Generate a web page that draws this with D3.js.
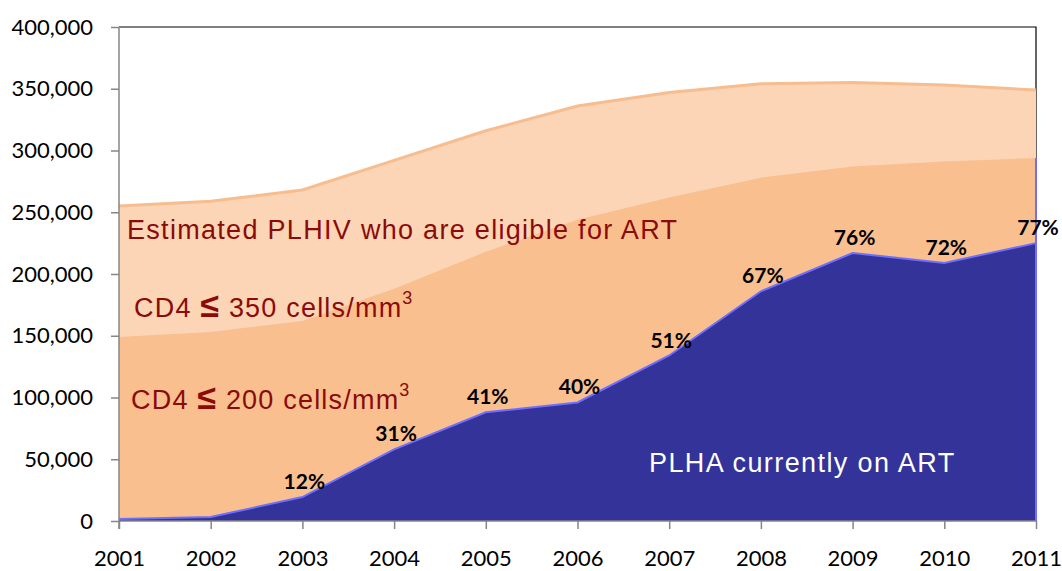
<!DOCTYPE html>
<html lang="en">
<head>
    <meta charset="UTF-8">
    <title>PLHIV eligible for ART</title>
    <style>
        * {
            margin: 0;
            padding: 0;
        }

        html,
        body {
            overflow: hidden;
            background: #fff;
        }
    </style>
</head>
<body>
    <div id="chart"></div>
    <script src="https://cdn.jsdelivr.net/npm/d3@7"></script>
    <script>
        // data
        const years = [2001, 2002, 2003, 2004, 2005, 2006, 2007, 2008, 2009, 2010, 2011]
        const eligible350 = [255000, 259000, 268000, 292000, 316000, 336000, 347000, 354000, 355000, 353000, 349000]
        const eligible200 = [149000, 153000, 162000, 188000, 218000, 244000, 262000, 278000, 287000, 291000, 294000]
        const onArt = [1600, 3200, 19400, 58000, 88000, 96000, 134000, 186000, 217000, 209000, 225000]
        const coverage = [null, null, '12%', '31%', '41%', '40%', '51%', '67%', '76%', '72%', '77%']
        const yTicks = [0, 50000, 100000, 150000, 200000, 250000, 300000, 350000, 400000]

        function drawChart() {
            const width = 1062
            const height = 571
            const margin = { top: 27, right: 26, bottom: 50, left: 119 }

            const svg = d3.select('#chart')
                .append('svg')
                .attr('width', width)
                .attr('height', height)

            const x = d3.scaleLinear()
                .domain([2001, 2011])
                .range([margin.left, width - margin.right])

            const y = d3.scaleLinear()
                .domain([0, 400000])
                .range([height - margin.bottom, margin.top])

            const rows = years.map((yr, i) => ({
                year: yr,
                outer: eligible350[i],
                mid: eligible200[i],
                art: onArt[i],
                label: coverage[i]
            }))

            // plot frame (top + right edge)
            svg.append('path')
                .attr('d', `M${x(2001)},${y(400000)}H${x(2011)}V${y(0)}`)
                .attr('fill', 'none')
                .attr('stroke', '#000')
                .attr('stroke-width', 1.2)

            const area = key => d3.area()
                .x(d => x(d.year))
                .y0(y(0))
                .y1(d => y(d[key]))

            const line = key => d3.line()
                .x(d => x(d.year))
                .y(d => y(d[key]))

            svg.append('path')
                .datum(rows)
                .attr('d', area('outer'))
                .attr('fill', '#FBD5B5')

            svg.append('path')
                .datum(rows)
                .attr('d', line('outer'))
                .attr('fill', 'none')
                .attr('stroke', '#F8BD8E')
                .attr('stroke-width', 3)

            svg.append('path')
                .datum(rows)
                .attr('d', area('mid'))
                .attr('fill', '#F9BF8F')

            svg.append('path')
                .datum(rows)
                .attr('d', area('art'))
                .attr('fill', '#333399')

            svg.append('path')
                .datum(rows)
                .attr('d', line('art'))
                .attr('fill', 'none')
                .attr('stroke', '#6E6EFF')
                .attr('stroke-width', 2)

            // right edge of the blue series border
            const last = rows[rows.length - 1]
            svg.append('line')
                .attr('x1', x(last.year))
                .attr('x2', x(last.year))
                .attr('y1', y(last.mid))
                .attr('y2', y(0))
                .attr('stroke', '#6E6EFF')
                .attr('stroke-width', 2)

            // axes
            const yAxis = svg.append('g')
                .attr('transform', `translate(${margin.left},0)`)
                .call(d3.axisLeft(y).tickValues(yTicks).tickFormat(d3.format(',')).tickSize(8).tickPadding(18))
            yAxis.select('.domain').attr('stroke', '#868686').attr('stroke-width', 1.5)
                .attr('d', `M0,${y(400000)}V${y(0) + 8}`)
            yAxis.selectAll('.tick line').attr('stroke', '#868686').attr('stroke-width', 1.5)
            yAxis.selectAll('.tick text')
                .attr('font-family', 'Lato, sans-serif')
                .attr('font-size', 22)
                .attr('fill', '#000')

            const xAxis = svg.append('g')
                .attr('transform', `translate(0,${y(0)})`)
                .call(d3.axisBottom(x).tickValues(years).tickFormat(d3.format('d')).tickSize(8).tickPadding(21))
            xAxis.select('.domain').attr('stroke', '#868686').attr('stroke-width', 1.5)
                .attr('d', `M${x(2001)},0H${x(2011)}`)
            xAxis.selectAll('.tick line').attr('stroke', '#868686').attr('stroke-width', 1.5)
            xAxis.selectAll('.tick text')
                .attr('font-family', 'Lato, sans-serif')
                .attr('font-size', 22)
                .attr('fill', '#000')

            // coverage labels
            svg.selectAll('.pct')
                .data(rows.filter(d => d.label))
                .join('text')
                .attr('class', 'pct')
                .attr('x', d => x(d.year) + 2)
                .attr('y', d => y(d.art) - 8)
                .attr('text-anchor', 'middle')
                .attr('font-family', 'Lato, sans-serif')
                .attr('font-weight', 'bold')
                .attr('font-size', 21)
                .attr('fill', '#000')
                .text(d => d.label)

            // annotations
            const red = '#8B0A0A'
            svg.append('text')
                .attr('x', 127)
                .attr('y', 239)
                .attr('font-family', 'Liberation Sans, Arial, sans-serif')
                .attr('font-size', 27)
                .attr('letter-spacing', 1.3)
                .attr('fill', red)
                .text('Estimated PLHIV who are eligible for ART')

            function cd4Label(xPos, yPos, value) {
                const t = svg.append('text')
                    .attr('x', xPos)
                    .attr('y', yPos)
                    .attr('font-family', 'Liberation Sans, Arial, sans-serif')
                    .attr('font-size', 27)
                    .attr('letter-spacing', 1.2)
                    .attr('fill', red)
                t.append('tspan').text('CD4 ')
                t.append('tspan').attr('font-weight', 'bold').attr('font-size', 34).text('≤')
                t.append('tspan').text(` ${value} cells/mm`)
                t.append('tspan').attr('font-size', 18).attr('dy', -13).text('3')
            }
            cd4Label(134, 317, 350)
            cd4Label(131, 409, 200)

            svg.append('text')
                .attr('x', 649)
                .attr('y', 472)
                .attr('font-family', 'Liberation Sans, Arial, sans-serif')
                .attr('font-size', 27)
                .attr('letter-spacing', 1.4)
                .attr('fill', '#fff')
                .text('PLHA currently on ART')
        }

        drawChart()
    </script>
</body>
</html>
